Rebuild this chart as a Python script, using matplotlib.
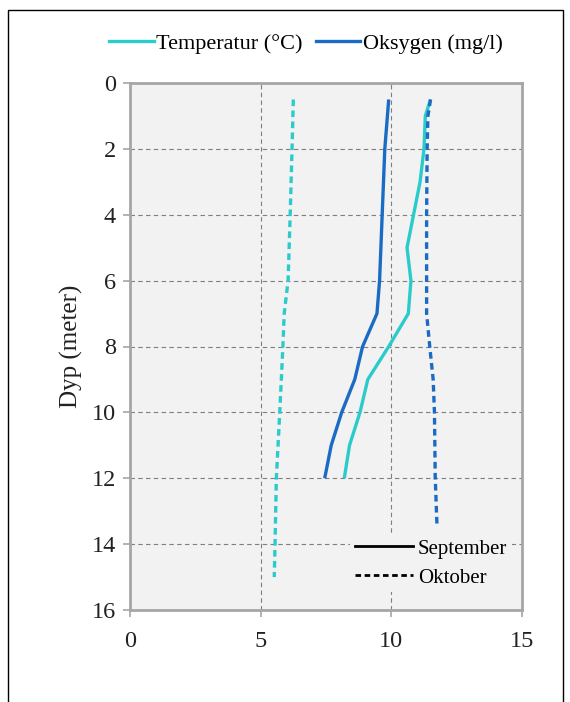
import matplotlib.pyplot as plt
from matplotlib.lines import Line2D
from matplotlib.patches import Rectangle

plt.rcParams["font.family"] = ["Liberation Serif", "DejaVu Serif"]

# depth (m) and profiles
depth_sep = [0.5, 1, 2, 3, 4, 5, 6, 7, 8, 9, 10, 11, 12]
temp_sep = [11.5, 11.3, 11.25, 11.1, 10.85, 10.6, 10.75, 10.65, 9.9, 9.1, 8.8, 8.4, 8.2]
oxy_sep = [9.9, 9.85, 9.75, 9.7, 9.65, 9.6, 9.55, 9.45, 8.9, 8.6, 8.1, 7.7, 7.45]

depth_okt_t = [0.5, 2, 4, 6, 7, 8, 10, 12, 14, 15]
temp_okt = [6.25, 6.2, 6.13, 6.05, 5.9, 5.85, 5.73, 5.6, 5.55, 5.52]
depth_okt_o = [0.5, 1, 2, 4, 6, 7, 8, 9, 10, 12, 13.5]
oxy_okt = [11.5, 11.4, 11.37, 11.35, 11.35, 11.35, 11.47, 11.6, 11.65, 11.68, 11.75]

C_TEMP = "#2CCBCB"
C_OXY = "#1A6BC4"

fig = plt.figure(figsize=(5.7, 7.02), dpi=100)
ax = fig.add_axes([130 / 570, 1 - 610 / 702, 392 / 570, 527 / 702])
ax.set_facecolor("#f2f2f2")

ax.plot(temp_sep, depth_sep, color=C_TEMP, lw=2.4, solid_capstyle="butt")
ax.plot(oxy_sep, depth_sep, color=C_OXY, lw=2.4, solid_capstyle="butt")
ax.plot(temp_okt, depth_okt_t, color=C_TEMP, lw=2.4, ls=(0, (2.0, 1.3)))
ax.plot(oxy_okt, depth_okt_o, color=C_OXY, lw=2.4, ls=(0, (2.0, 1.3)))

ax.set_xlim(0, 15)
ax.set_ylim(16, 0)
ax.set_xticks([0, 5, 10, 15])
ax.set_yticks(range(0, 17, 2))
ax.grid(True, color="#7f7f7f", ls=(0, (4, 3)), lw=0.8)
ax.set_axisbelow(True)
for s in ax.spines.values():
    s.set_color("#a6a6a6")
    s.set_linewidth(2)
ax.tick_params(axis="both", labelsize=17.5, colors="#a6a6a6", labelcolor="#222222",
               length=5, width=1.2)
ax.tick_params(axis="x", pad=10)
ax.tick_params(axis="y", pad=5)
ax.set_ylabel("Dyp (meter)", fontsize=18, color="#222222", labelpad=6)

# month legend inside plot
month_handles = [Line2D([], [], color="black", lw=2),
                 Line2D([], [], color="black", lw=2, ls=(0, (2.0, 1.3)))]
leg2 = ax.legend(month_handles, ["September", "Oktober"], loc="lower right",
                 bbox_to_anchor=(1.0, 0.015), frameon=True, fontsize=15,
                 handlelength=2.8, handletextpad=0.25, labelspacing=0.45,
                 borderpad=0.2, facecolor="#f2f2f2", edgecolor="none",
                 framealpha=1)
ax.add_artist(leg2)

# variable legend on top
var_handles = [Line2D([], [], color=C_TEMP, lw=2.4),
               Line2D([], [], color=C_OXY, lw=2.4)]
fig.legend(var_handles, ["Temperatur (°C)", "Oksygen (mg/l)"], loc="center",
           bbox_to_anchor=(306 / 570, 1 - 44 / 702), ncol=2, frameon=False,
           fontsize=16, handlelength=2.0, handletextpad=0.1, columnspacing=0.6)

# outer frame
fig.patches.append(Rectangle((8 / 570, -0.01), (563 - 8) / 570, 1 - 10 / 702 + 0.01,
                             transform=fig.transFigure, fill=False,
                             edgecolor="black", lw=1))

fig.savefig("out.png", dpi=100)
